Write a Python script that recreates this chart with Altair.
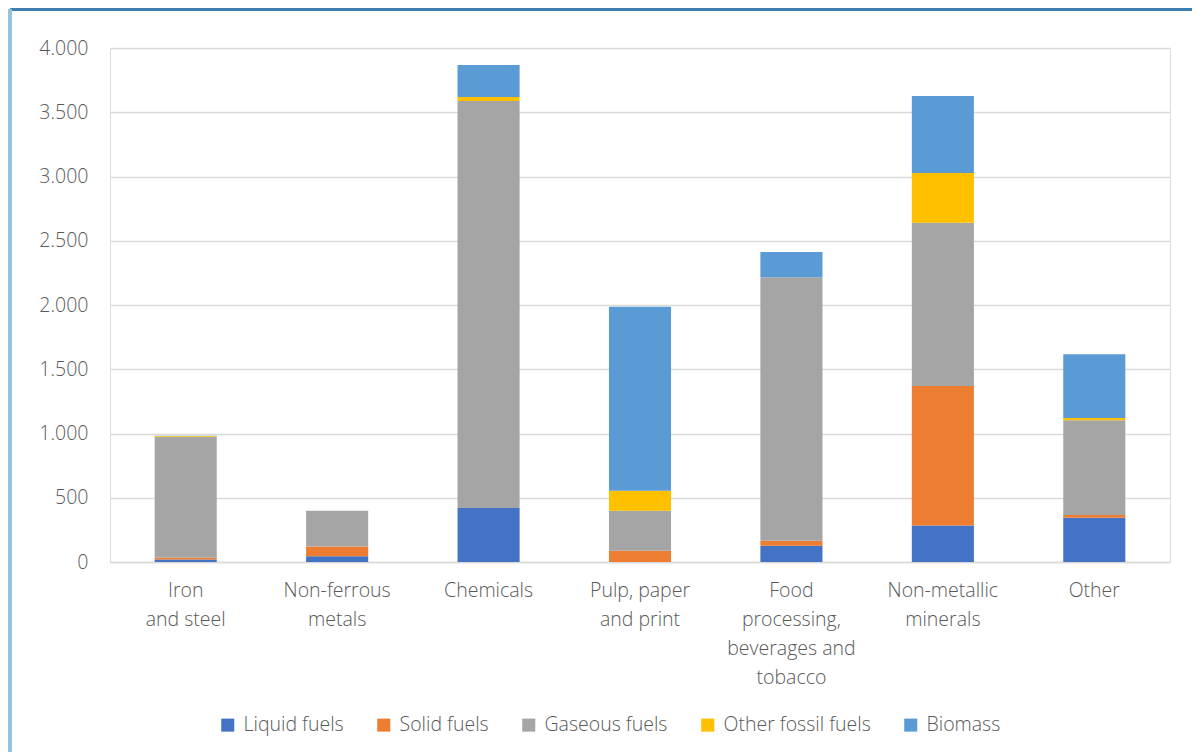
import altair as alt
import pandas as pd

categories = ["Iron|and steel", "Non-ferrous|metals", "Chemicals", "Pulp, paper|and print",
              "Food|processing,|beverages and|tobacco", "Non-metallic|minerals", "Other"]
series = ["Liquid fuels", "Solid fuels", "Gaseous fuels", "Other fossil fuels", "Biomass"]
colors = ["#4472C4", "#ED7D31", "#A5A5A5", "#FFC000", "#5B9BD5"]

liquid = [20, 45, 420, 0, 127, 285, 345]
solid = [15, 75, 0, 88, 39, 1085, 21]
gaseous = [940, 278, 3168, 311, 2049, 1271, 737]
other_fossil = [5, 0, 31, 156, 0, 386, 18]
biomass = [3, 0, 249, 1432, 197, 599, 495]

y_ticks = [0, 500, 1000, 1500, 2000, 2500, 3000, 3500, 4000]

values = [liquid, solid, gaseous, other_fossil, biomass]
rows = []
for si, (s, vals) in enumerate(zip(series, values)):
    for c, v in zip(categories, vals):
        rows.append({"category": c, "fuel": s, "value": v, "order": si})
df = pd.DataFrame(rows)

FONT = "Open Sans"
TXT = "#595959"
FS = 19.5
FW = 300

bars = alt.Chart(df).mark_bar().encode(
    x=alt.X("category:N", sort=categories,
            scale=alt.Scale(paddingInner=0.59, paddingOuter=0.295),
            axis=alt.Axis(title=None, labelAngle=0, labelExpr="split(datum.label, '|')",
                          labelFontSize=FS, labelColor=TXT, labelFont=FONT, labelFontWeight=FW,
                          labelLineHeight=29, labelPadding=19, ticks=False,
                          domainColor="#d9d9d9", domainWidth=1.5, labelBaseline="top")),
    y=alt.Y("value:Q", stack="zero", scale=alt.Scale(domain=[0, 4000], nice=False),
            axis=alt.Axis(title=None, values=y_ticks,
                          labelExpr="replace(format(datum.value, ','), ',', '.')",
                          labelFontSize=FS, labelColor=TXT, labelFont=FONT, labelFontWeight=FW,
                          labelPadding=22, ticks=False, domain=False,
                          gridColor="#d9d9d9", gridWidth=1.5)),
    color=alt.Color("fuel:N", sort=series,
                    scale=alt.Scale(domain=series, range=colors),
                    legend=alt.Legend(title=None, orient="none", direction="horizontal",
                                      legendX=108, legendY=667,
                                      symbolType="square", symbolSize=170,
                                      symbolStrokeWidth=0,
                                      labelFontSize=FS, labelColor=TXT, labelFont=FONT,
                                      labelFontWeight=FW,
                                      labelOffset=6, columnPadding=30)),
    order=alt.Order("order:Q", sort="ascending"),
)

frame_top = alt.Chart(df).mark_rule(color="#3d7fb3", strokeWidth=1.5, clip=False).encode(
    x=alt.value(-100), x2=alt.value(1082), y=alt.value(-38.5)
)
frame_left = alt.Chart(df).mark_rule(color="#92c3de", strokeWidth=2.5, clip=False).encode(
    x=alt.value(-100), y=alt.value(-39), y2=alt.value(720)
)

chart = alt.layer(bars, frame_top, frame_left).properties(
    width=1060, height=514,
    autosize=alt.AutoSizeParams(type="none"),
    padding={"left": 102, "top": 40, "right": 22, "bottom": 190},
).configure_view(stroke=None).configure(font=FONT)

chart.save("out.html", embed_options={"renderer": "svg", "actions": False})
